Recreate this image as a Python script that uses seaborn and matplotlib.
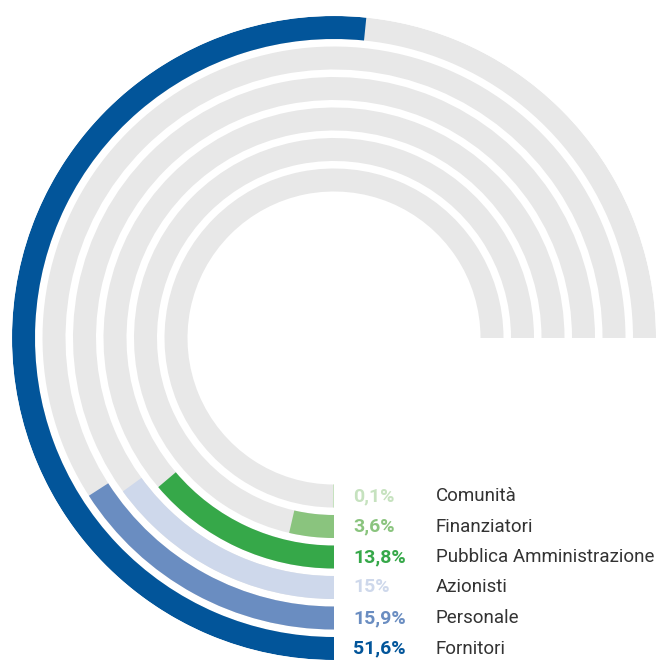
import numpy as np
import matplotlib
matplotlib.use("Agg")
import matplotlib.pyplot as plt
import seaborn as sns

# Shares of distributed economic value, per stakeholder (innermost ring first)
categories = ["Comunità", "Finanziatori", "Pubblica Amministrazione",
              "Azionisti", "Personale", "Fornitori"]
shares = [0.1, 3.6, 13.8, 15.0, 15.9, 51.6]
share_labels = ["0,1%", "3,6%", "13,8%", "15%", "15,9%", "51,6%"]
ring_colors = ["#C6E2BF", "#8AC47E", "#36A849", "#CED8EB", "#6A8DC1", "#02559A"]
track_color = "#E8E8E8"
text_color = "#333333"

sns.set_theme(style="white")
plt.rcParams["font.family"] = ["Roboto", "DejaVu Sans"]

W, H = 661, 662
fig = plt.figure(figsize=(W / 100, H / 100), dpi=100)
fig.patch.set_facecolor("white")

# polar axes laid out in pixel units: centre at (334, 338), outer radius 322
cx, cy, R = 334, 338, 322
ax = fig.add_axes([(cx - R) / W, (H - cy - R) / H, 2 * R / W, 2 * R / H],
                  projection="polar")
ax.set_theta_zero_location("S")
ax.set_theta_direction(-1)
ax.set_ylim(0, R)
ax.set_axis_off()

thickness = 23
pitch = 30.5
outer_center = 310.5
n = len(categories)
radii = [outer_center - (n - 1 - i) * pitch for i in range(n)]

# grey tracks spanning three quarters of the circle
ax.barh(radii, [1.5 * np.pi] * n, left=0, height=thickness,
        color=track_color, edgecolor="none", align="center")
# coloured arcs, full circle = 100%
ax.barh(radii, [s / 100 * 2 * np.pi for s in shares], left=0, height=thickness,
        color=ring_colors, edgecolor="none", align="center")

for r, lab, name, col in zip(radii, share_labels, categories, ring_colors):
    ax.annotate(lab, xy=(0, r), xytext=(19, 0), textcoords="offset pixels",
                ha="left", va="center", fontsize=14, fontweight="bold",
                color=col)
    ax.annotate(name, xy=(0, r), xytext=(102, 0), textcoords="offset pixels",
                ha="left", va="center", fontsize=13.5, color=text_color)

fig.savefig("out.png", dpi=100, facecolor="white")
